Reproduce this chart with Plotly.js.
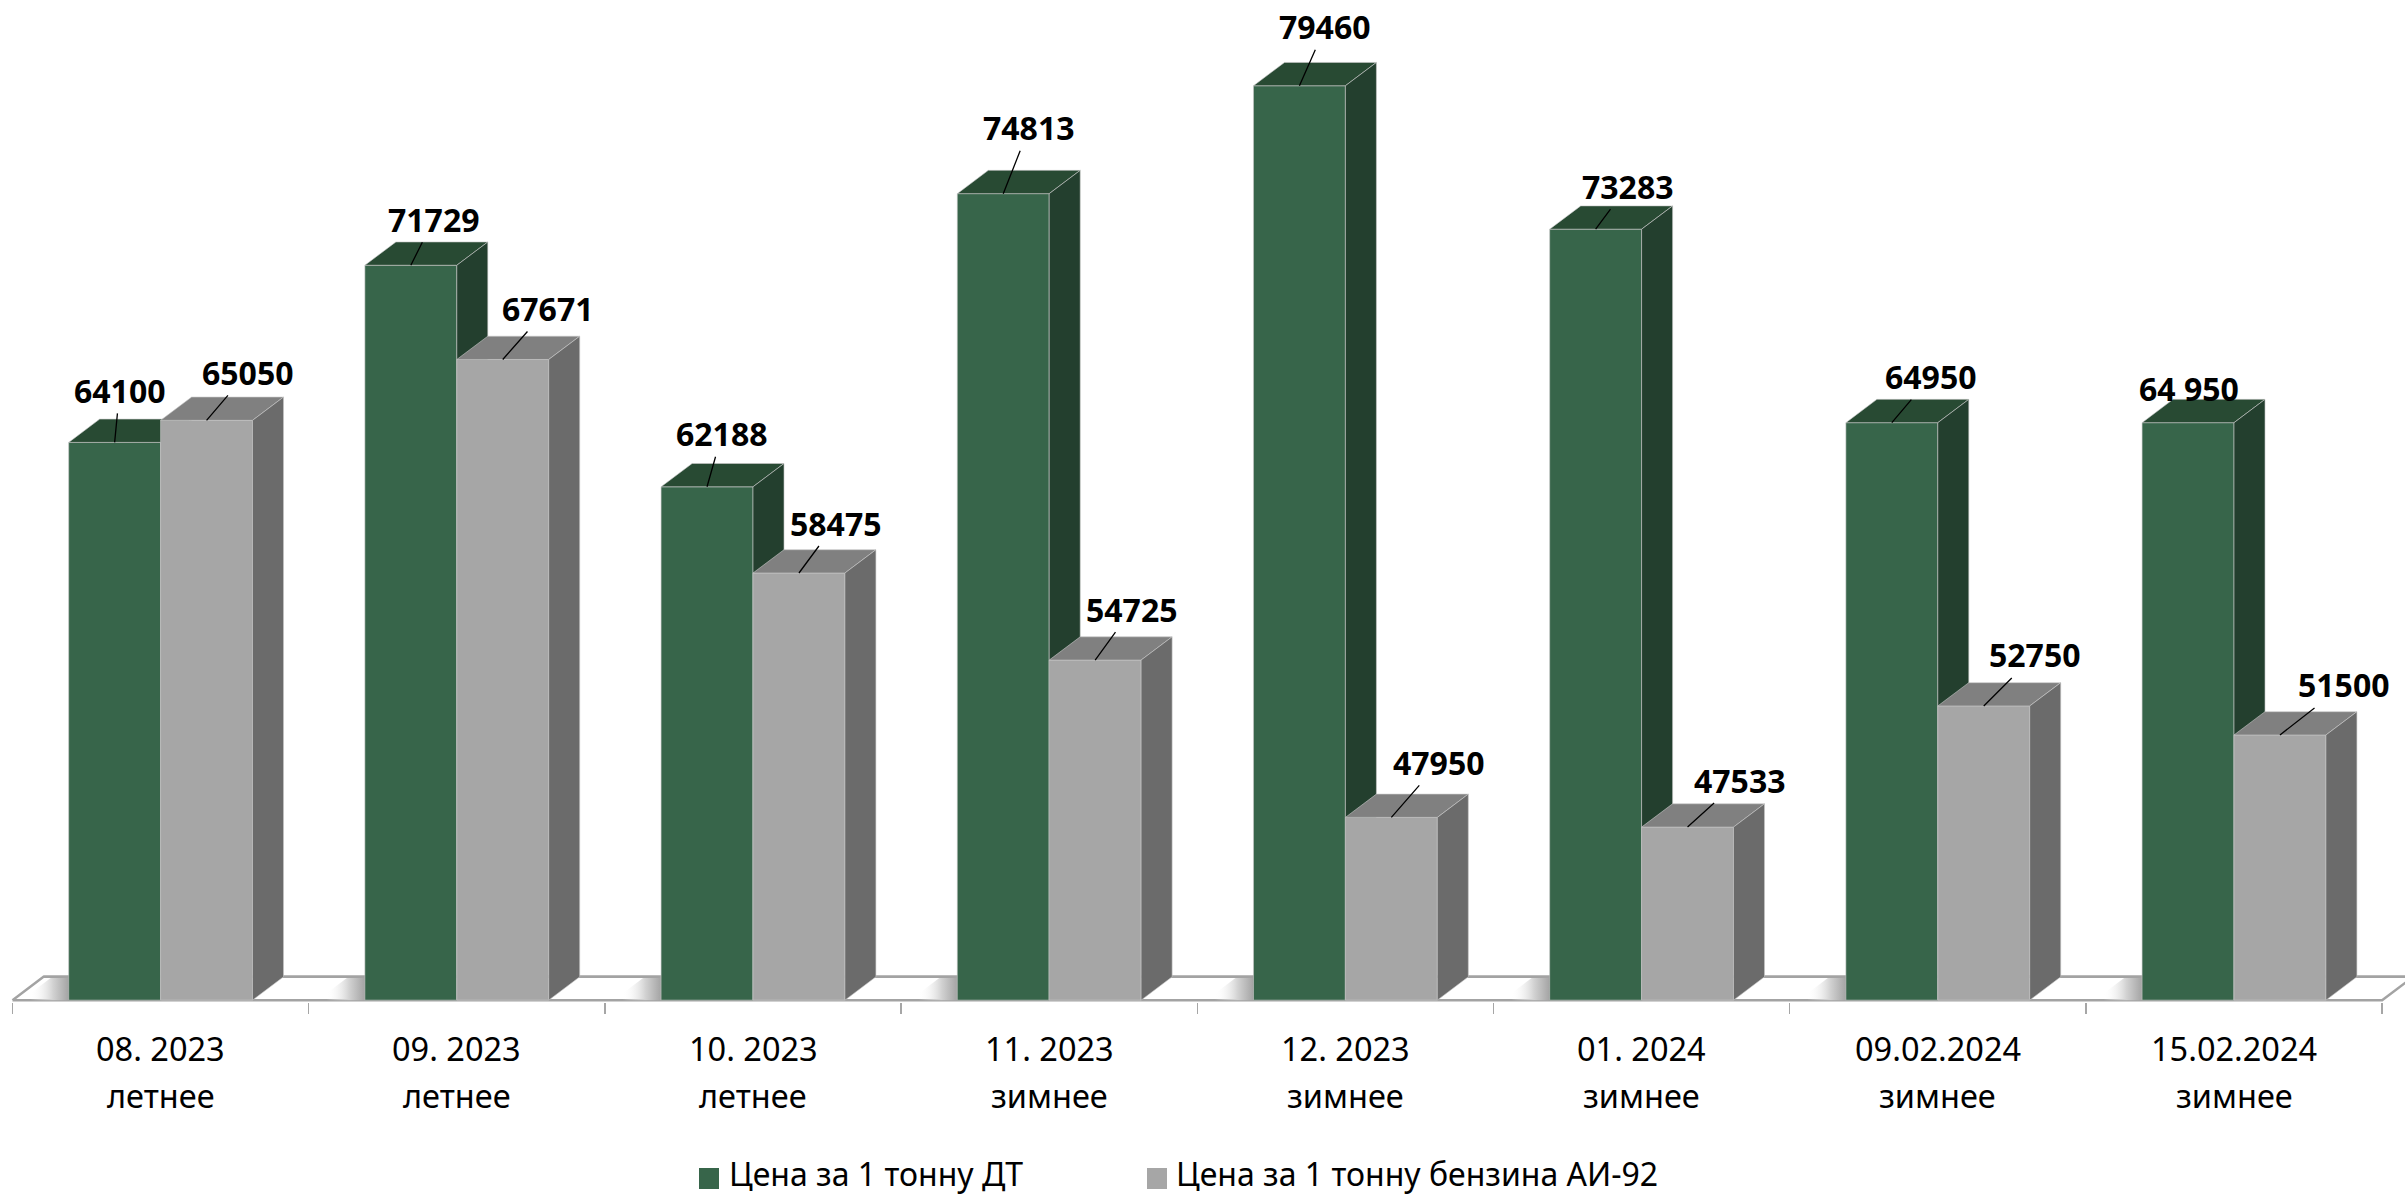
<!DOCTYPE html>
<html>
<head>
<meta charset="utf-8">
<script src="https://cdn.plot.ly/plotly-3.0.1.min.js"></script>
<style>html,body{margin:0;padding:0;background:#fff;}#chart{width:2405px;height:1196px;}</style>
</head>
<body>
<div id="chart"></div>
<script>
// ---- data ----
const periodLabels = ['08. 2023','09. 2023','10. 2023','11. 2023','12. 2023','01. 2024','09.02.2024','15.02.2024'];
const seasonLabels = ['летнее','летнее','летнее','зимнее','зимнее','зимнее','зимнее','зимнее'];
const dtPrices = [64100, 71729, 62188, 74813, 79460, 73283, 64950, 64950];
const ai92Prices = [65050, 67671, 58475, 54725, 47950, 47533, 52750, 51500];
const dtLabelText = ['64100','71729','62188','74813','79460','73283','64950','64 950'];
const ai92LabelText = ['65050','67671','58475','54725','47950','47533','52750','51500'];
const seriesNames = ['Цена за 1 тонну ДТ', 'Цена за 1 тонну бензина АИ-92'];

// ---- style / geometry ----
const Y_MIN = 40000, PX_PER_UNIT = 0.02322, PLOT_H = 1002;
const Y_MAX = Y_MIN + PLOT_H / PX_PER_UNIT;
const BASE = 40080;           // top of floor slab (front edge)
const BAR_W = 0.3103;
const DX = 0.1047, DY = 1003; // 3-D depth offsets
const SHADOW_W = 0.16;
const CAT_PX = 296.2, X_LEFT_PX = 12.5, W = 2405, H = 1196;
const XMIN = -0.5 - X_LEFT_PX / CAT_PX, XMAX = XMIN + W / CAT_PX;
const FONT = 'Noto Sans, Open Sans, DejaVu Sans, sans-serif';
const colors = {
  dt: {front:'#37654A', top:'#284A33', side:'#233F2E'},
  ai: {front:'#A6A6A6', top:'#808080', side:'#6B6B6B'}
};
const EDGE = 'rgba(200,200,200,0.6)';
const dtOffsets = [[5,-52],[23,-46],[15,-53],[26,-66],[26,-59],[32,-43],[39,-46],[1,-34]];
const aiOffsets = [[41,-48],[45,-51],[37,-50],[37,-51],[48,-55],[52,-47],[51,-51],[64,-50]];
const dtLeader = [true,true,true,true,true,true,true,false];

function polyTrace(polys, fill, line, lw) {
  const x = [], y = [];
  polys.forEach((p, k) => {
    if (k) { x.push(null); y.push(null); }
    p.forEach(pt => { x.push(pt[0]); y.push(pt[1]); });
    x.push(p[0][0]); y.push(p[0][1]);
  });
  return {type:'scatter', mode:'lines', x, y, fill:'toself', fillcolor:fill,
          line:{color:line, width:(lw === undefined ? 1 : lw)}, hoverinfo:'skip', showlegend:false};
}

function barFaces(values, shift, col) {
  const fronts = [], tops = [], sides = [];
  values.forEach((v, i) => {
    const x0 = i + shift, x1 = x0 + BAR_W;
    fronts.push([[x0,BASE],[x0,v],[x1,v],[x1,BASE]]);
    tops.push([[x0,v],[x0+DX,v+DY],[x1+DX,v+DY],[x1,v]]);
    sides.push([[x1,BASE],[x1,v],[x1+DX,v+DY],[x1+DX,BASE+DY]]);
  });
  return [polyTrace(fronts, col.front, EDGE),
          polyTrace(tops, col.top, EDGE),
          polyTrace(sides, col.side, EDGE)];
}

const n = periodLabels.length;
const floor = polyTrace([[[-0.5,BASE],[-0.5+DX,BASE+DY],[n-0.5+DX,BASE+DY],[n-0.5,BASE]]], '#ffffff', '#a3a3a3', 2.5);

// soft shadow on the floor in front of each green bar's hidden left face
const shadows = dtPrices.map((v, i) => {
  const x0 = i - BAR_W;
  const t = polyTrace([[[x0 - SHADOW_W, BASE],[x0, BASE],[x0 + DX, BASE + DY],[x0 - SHADOW_W + DX, BASE + DY]]],
                      '#a0a0a0', 'rgba(0,0,0,0)', 0);
  t.fillgradient = {type:'horizontal', start: x0 - SHADOW_W + 0.03, stop: x0 + 0.01,
                    colorscale:[[0,'rgba(255,255,255,0)'],[0.55,'rgba(210,210,210,1)'],[1,'rgba(155,155,155,1)']]};
  return t;
});
// re-draw the floor back edge over the shadows
const floorBack = {type:'scatter', mode:'lines', x:[-0.5+DX, n-0.5+DX], y:[BASE+DY, BASE+DY],
                   line:{color:'#a3a3a3', width:2.5}, hoverinfo:'skip', showlegend:false};

const traces = [floor].concat(shadows).concat([floorBack])
  .concat(barFaces(dtPrices, -BAR_W, colors.dt))
  .concat(barFaces(ai92Prices, 0, colors.ai));

const annotations = [];
function addLabels(values, texts, shift, offs, leader) {
  values.forEach((v, i) => {
    annotations.push({
      x: i + shift + BAR_W/2, y: v, xref:'x', yref:'y',
      text: texts[i], showarrow: true, arrowhead: 0, arrowwidth: 1.3,
      arrowcolor: (leader && !leader[i]) ? 'rgba(0,0,0,0)' : '#000',
      ax: offs[i][0], ay: offs[i][1], standoff: 0,
      font: {family: FONT, size: 32, color: '#000', weight: 700}
    });
  });
}
addLabels(dtPrices, dtLabelText, -BAR_W, dtOffsets, dtLeader);
addLabels(ai92Prices, ai92LabelText, 0, aiOffsets, null);

periodLabels.forEach((t, i) => {
  annotations.push({x:i, y:0, xref:'x', yref:'paper', yshift:-46, yanchor:'middle', xanchor:'center',
    text:t, showarrow:false, font:{family:FONT, size:32.5, color:'#000'}});
  annotations.push({x:i, y:0, xref:'x', yref:'paper', yshift:-93, yanchor:'middle', xanchor:'center',
    text:seasonLabels[i], showarrow:false, font:{family:FONT, size:32.5, color:'#000'}});
});

// legend
const py = p => (PLOT_H - p) / PLOT_H;
const legendItems = [
  {sq:[699,719], tx:728, color:colors.dt.front, name:seriesNames[0]},
  {sq:[1147,1167], tx:1175, color:colors.ai.front, name:seriesNames[1]}
];
const shapes = [];
legendItems.forEach(it => {
  shapes.push({type:'rect', xref:'paper', yref:'paper', x0:it.sq[0]/W, x1:it.sq[1]/W,
    y0:py(1189), y1:py(1168), fillcolor:it.color, line:{width:0}});
  annotations.push({x:it.tx/W, y:py(1173), xref:'paper', yref:'paper', xanchor:'left', yanchor:'middle',
    borderpad:0, text:it.name, showarrow:false, font:{family:FONT, size:32, color:'#000'}});
});

const tickvals = periodLabels.map((_, i) => i - 0.5).concat([n - 0.5]);

const layout = {
  width: W, height: H,
  margin: {l:0, r:0, t:0, b:H - PLOT_H, pad:0},
  paper_bgcolor:'#fff', plot_bgcolor:'#fff',
  showlegend:false,
  xaxis: {range:[XMIN, XMAX], showgrid:false, zeroline:false, showline:false,
          tickmode:'array', tickvals: tickvals, ticks:'outside', ticklen:11, tickwidth:1.5,
          tickcolor:'#a6a6a6', showticklabels:false, fixedrange:true},
  yaxis: {range:[Y_MIN, Y_MAX], visible:false, fixedrange:true},
  annotations, shapes
};

Plotly.newPlot('chart', traces, layout, {displayModeBar:false, staticPlot:true});
</script>
</body>
</html>
